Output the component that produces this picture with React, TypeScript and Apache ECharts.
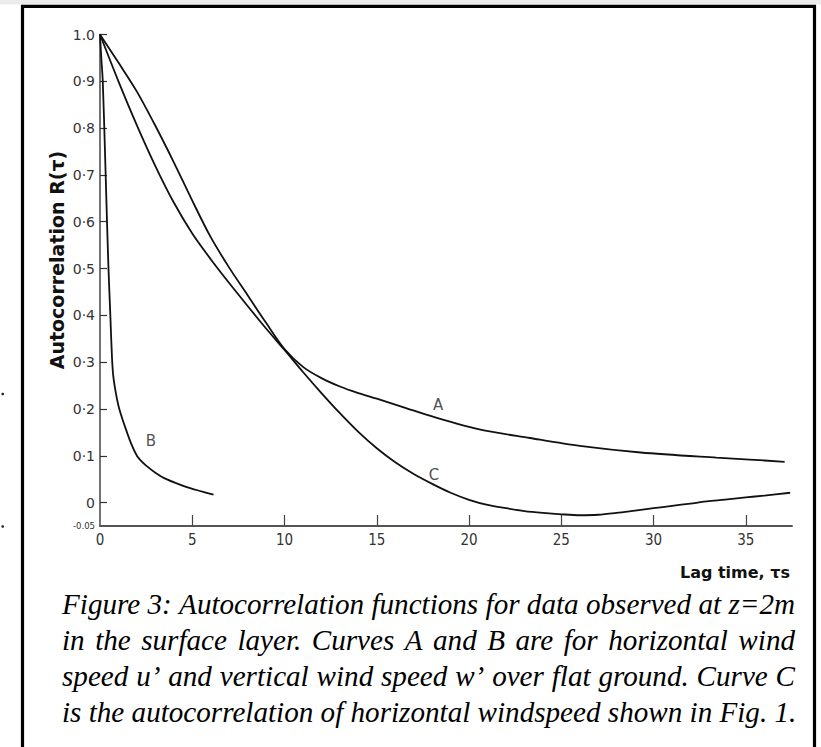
import React, { useEffect, useRef } from 'react';
import * as echarts from 'echarts';

// ---- data ----
const curveA: [number, number][] = [
  [0, 1.0], [1, 0.94], [2, 0.878], [3, 0.805], [4, 0.727], [5, 0.645], [6, 0.567], [7, 0.502],
  [8, 0.443], [9, 0.384], [10, 0.328], [11, 0.29], [12, 0.266], [13, 0.248], [14, 0.234],
  [15, 0.222], [16.5, 0.203], [18, 0.184], [20.5, 0.157], [23.3, 0.138], [26, 0.121],
  [29.3, 0.107], [33.4, 0.096], [35.2, 0.092], [37.1, 0.087],
];
const curveB: [number, number][] = [
  [0, 1.0], [0.07, 0.95], [0.15, 0.9], [0.27, 0.75], [0.38, 0.6], [0.46, 0.5], [0.56, 0.4],
  [0.65, 0.31], [0.72, 0.27], [0.85, 0.236], [1.0, 0.207], [1.2, 0.18], [1.4, 0.157],
  [1.7, 0.125], [2.0, 0.1], [2.2, 0.09], [2.5, 0.079], [3.0, 0.064], [3.6, 0.05],
  [4.7, 0.033], [5.5, 0.024], [6.15, 0.017],
];
const curveC: [number, number][] = [
  [0, 1.0], [1, 0.9], [2, 0.806], [3, 0.719], [4, 0.641], [5, 0.575], [6, 0.52], [7, 0.469],
  [8, 0.42], [9, 0.372], [10, 0.326], [11, 0.279], [12, 0.234], [13, 0.191], [14, 0.151],
  [15, 0.116], [16, 0.086], [17, 0.061], [18, 0.04], [19, 0.021], [20, 0.006], [21, -0.005],
  [22, -0.012], [23, -0.018], [24, -0.022], [25, -0.025], [26, -0.027], [27, -0.026],
  [28, -0.022], [29, -0.017], [30, -0.012], [31, -0.007], [32, -0.002], [33, 0.003],
  [34, 0.007], [35, 0.011], [36, 0.015], [37.4, 0.021],
];
const curveLabels = [
  { name: 'A', value: [18.32, 0.208] },
  { name: 'B', value: [2.76, 0.132] },
  { name: 'C', value: [18.1, 0.059] },
];
const xTicks = [0, 5, 10, 15, 20, 25, 30, 35];
const yTicks = [-0.05, 0, 0.1, 0.2, 0.3, 0.4, 0.5, 0.6, 0.7, 0.8, 0.9, 1.0];
const xMin = 0;
const xMax = 37.5;
const yMin = -0.05;
const yMax = 1.0;
const yTitle = 'Autocorrelation R(τ)';
const xTitle = 'Lag time, τs';
const captionLines = [
  'Figure 3: Autocorrelation functions for data observed at z=2m',
  'in the surface layer. Curves A and B are for horizontal wind',
  'speed u’ and vertical wind speed w’ over flat ground. Curve C',
  'is the autocorrelation of horizontal windspeed shown in Fig. 1.',
];

const W = 821;
const H = 747;

function yLabel(v: number): string {
  if (Math.abs(v - 1) < 1e-9) return '1.0';
  if (Math.abs(v) < 1e-9) return '0';
  if (v < 0) return '{s|-0.05}';
  return v.toFixed(1).replace('.', '·');
}

function buildCaption(): any[] {
  const family = '"Liberation Serif", "Times New Roman", serif';
  const left = 62;
  const width = 733;
  const top = 604;
  const gap = 36;
  const canvas = document.createElement('canvas');
  const ctx = canvas.getContext('2d') as CanvasRenderingContext2D;
  ctx.font = `italic 100px ${family}`;
  const w1 = ctx.measureText(captionLines[0]).width;
  let fs = (100 * width) / w1;
  fs = Math.max(22, Math.min(30, fs));
  const font = `italic ${fs.toFixed(2)}px ${family}`;
  ctx.font = font;
  const els: any[] = [];
  captionLines.forEach((line, i) => {
    const y = top + i * gap;
    if (i === captionLines.length - 1) {
      els.push({
        type: 'text', x: left, y, silent: true,
        style: { text: line, font, fill: '#000', textVerticalAlign: 'middle' },
      });
      return;
    }
    const words = line.split(' ');
    const widths = words.map((w) => ctx.measureText(w).width);
    const total = widths.reduce((a, b) => a + b, 0);
    const sp = (width - total) / (words.length - 1);
    let x = left;
    words.forEach((w, j) => {
      els.push({
        type: 'text', x, y, silent: true,
        style: { text: w, font, fill: '#000', textVerticalAlign: 'middle' },
      });
      x += widths[j] + sp;
    });
  });
  return els;
}

export default function App() {
  const ref = useRef<HTMLDivElement>(null);
  useEffect(() => {
    if (!ref.current) return;
    const chart = echarts.init(ref.current, null, { renderer: 'svg', width: W, height: H });
    const lineStyle = { color: '#111', width: 1.8 };
    const mkLine = (name: string, data: [number, number][]) => ({
      name, type: 'line', data, smooth: 0.3, showSymbol: false, symbol: 'none',
      lineStyle, silent: true, z: 3,
    });
    const option: any = {
      animation: false,
      backgroundColor: '#fff',
      grid: { left: 100, right: 29, top: 34.5, bottom: 221, containLabel: false, outerBoundsMode: 'none' },
      xAxis: {
        type: 'value', min: xMin, max: xMax,
        axisLine: { show: true, onZero: false, lineStyle: { color: '#555', width: 2 } },
        axisTick: { show: true, inside: true, length: 11, customValues: xTicks.filter((v) => v > 0), lineStyle: { color: '#444', width: 1.2 } },
        axisLabel: {
          show: true, customValues: xTicks, margin: 6, formatter: (v: number) => String(v),
          fontFamily: '"Liberation Sans Narrow", "DejaVu Sans Condensed", "Liberation Sans", sans-serif',
          fontSize: 15, color: '#333',
        },
        splitLine: { show: false },
      },
      yAxis: {
        type: 'value', min: yMin, max: yMax,
        axisLine: { show: true, onZero: false, lineStyle: { color: '#444', width: 1.5 } },
        axisTick: { show: true, inside: true, length: 7, customValues: yTicks.filter((v) => v > -0.01), lineStyle: { color: '#333', width: 1.2 } },
        axisLabel: {
          show: true, customValues: yTicks, margin: 5, formatter: yLabel,
          fontFamily: '"DejaVu Sans", sans-serif', fontSize: 14, color: '#333',
          rich: { s: { fontSize: 8.5, fontFamily: '"DejaVu Sans", sans-serif', color: '#333' } },
        },
        splitLine: { show: false },
      },
      series: [
        mkLine('A', curveA),
        mkLine('B', curveB),
        mkLine('C', curveC),
        {
          type: 'scatter', data: curveLabels, symbolSize: 0, silent: true, z: 4,
          label: {
            show: true, position: 'inside', formatter: '{b}',
            fontFamily: '"DejaVu Sans", sans-serif', fontSize: 15, color: '#222',
          },
        },
      ],
      graphic: [
        { type: 'rect', shape: { x: 0, y: 0, width: W, height: 4.5 }, style: { fill: '#ebebeb' }, silent: true, z: 1 },
        { type: 'rect', shape: { x: 22.5, y: 6.3, width: 792, height: 800 }, style: { fill: 'none', stroke: '#000', lineWidth: 3.2 }, silent: true, z: 10 },
        { type: 'circle', shape: { cx: 2.7, cy: 394, r: 1.3 }, style: { fill: '#222' }, silent: true },
        { type: 'circle', shape: { cx: 2.7, cy: 526.5, r: 1.3 }, style: { fill: '#222' }, silent: true },
        {
          type: 'text', x: 57, y: 260, rotation: Math.PI / 2, silent: true,
          style: { text: yTitle, font: 'bold 19px "DejaVu Sans", sans-serif', fill: '#111', textAlign: 'center', textVerticalAlign: 'middle' },
        },
        {
          type: 'text', x: 790, y: 572, silent: true,
          style: { text: xTitle, font: 'bold 16px "DejaVu Sans", sans-serif', fill: '#111', textAlign: 'right', textVerticalAlign: 'middle' },
        },
        ...buildCaption(),
      ],
    };
    chart.setOption(option);
    return () => chart.dispose();
  }, []);
  return (
    <div
      ref={ref}
      style={{ position: 'absolute', left: 0, top: 0, width: W, height: H, background: '#fff' }}
    />
  );
}
